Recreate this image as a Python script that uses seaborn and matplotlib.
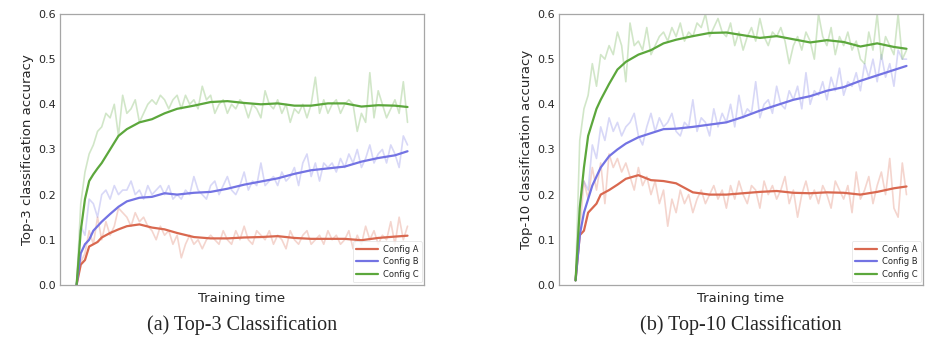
import numpy as np
import pandas as pd
import matplotlib
matplotlib.use("Agg")
import matplotlib.pyplot as plt
import seaborn as sns

sns.set_theme(style="white")
plt.rcParams["font.family"] = ["DejaVu Sans"]

CONFIGS = ["Config A", "Config B", "Config C"]
COLORS = {"Config A": "#D9684F", "Config B": "#7373E3", "Config C": "#5CA73C"}

# raw (noisy) curves, 80 evaluation steps
A3_RAW = [0.00, 0.05, 0.07, 0.12, 0.09, 0.15, 0.10, 0.14, 0.11, 0.13,
          0.17, 0.16, 0.15, 0.13, 0.16, 0.14, 0.15, 0.13, 0.12, 0.10,
          0.13, 0.11, 0.12, 0.09, 0.11, 0.06, 0.09, 0.11, 0.09, 0.10,
          0.08, 0.10, 0.11, 0.10, 0.09, 0.12, 0.10, 0.09, 0.12, 0.10,
          0.13, 0.10, 0.09, 0.12, 0.11, 0.10, 0.12, 0.09, 0.11, 0.10,
          0.08, 0.12, 0.10, 0.09, 0.11, 0.12, 0.09, 0.10, 0.11, 0.09,
          0.12, 0.10, 0.11, 0.09, 0.10, 0.12, 0.08, 0.11, 0.09, 0.13,
          0.10, 0.12, 0.09, 0.11, 0.10, 0.14, 0.09, 0.15, 0.10, 0.13]
B3_RAW = [0.00, 0.13, 0.11, 0.19, 0.18, 0.15, 0.20, 0.21, 0.19, 0.22,
          0.20, 0.21, 0.21, 0.23, 0.20, 0.21, 0.19, 0.22, 0.20, 0.21,
          0.22, 0.20, 0.22, 0.19, 0.20, 0.19, 0.21, 0.20, 0.24, 0.21,
          0.20, 0.19, 0.22, 0.23, 0.20, 0.22, 0.24, 0.21, 0.20, 0.22,
          0.25, 0.21, 0.23, 0.22, 0.27, 0.22, 0.23, 0.24, 0.22, 0.25,
          0.23, 0.24, 0.26, 0.22, 0.27, 0.29, 0.24, 0.27, 0.23, 0.27,
          0.26, 0.27, 0.25, 0.28, 0.26, 0.29, 0.27, 0.30, 0.26, 0.28,
          0.31, 0.27, 0.29, 0.30, 0.27, 0.31, 0.29, 0.26, 0.33, 0.31]
C3_RAW = [0.00, 0.18, 0.25, 0.29, 0.31, 0.34, 0.35, 0.38, 0.37, 0.40,
          0.33, 0.42, 0.38, 0.39, 0.41, 0.36, 0.38, 0.40, 0.41, 0.40,
          0.42, 0.41, 0.39, 0.41, 0.42, 0.39, 0.42, 0.40, 0.41, 0.39,
          0.44, 0.41, 0.42, 0.38, 0.40, 0.41, 0.38, 0.40, 0.39, 0.41,
          0.40, 0.37, 0.40, 0.39, 0.37, 0.43, 0.40, 0.39, 0.41, 0.38,
          0.40, 0.36, 0.39, 0.38, 0.40, 0.37, 0.40, 0.46, 0.38, 0.41,
          0.38, 0.40, 0.41, 0.38, 0.40, 0.41, 0.40, 0.34, 0.38, 0.36,
          0.47, 0.37, 0.43, 0.40, 0.37, 0.39, 0.41, 0.38, 0.45, 0.36]
A10_RAW = [0.01, 0.12, 0.23, 0.19, 0.26, 0.21, 0.27, 0.18, 0.29, 0.26,
           0.28, 0.25, 0.27, 0.24, 0.21, 0.26, 0.22, 0.24, 0.20, 0.23,
           0.18, 0.21, 0.13, 0.19, 0.16, 0.21, 0.18, 0.20, 0.16, 0.19,
           0.21, 0.18, 0.20, 0.22, 0.19, 0.21, 0.17, 0.22, 0.19, 0.23,
           0.20, 0.18, 0.22, 0.21, 0.17, 0.23, 0.20, 0.22, 0.19, 0.21,
           0.24, 0.18, 0.21, 0.15, 0.20, 0.23, 0.19, 0.21, 0.18, 0.22,
           0.20, 0.17, 0.23, 0.21, 0.19, 0.22, 0.16, 0.25, 0.19, 0.21,
           0.24, 0.18, 0.22, 0.25, 0.20, 0.28, 0.17, 0.15, 0.27, 0.20]
B10_RAW = [0.01, 0.18, 0.23, 0.21, 0.31, 0.28, 0.35, 0.32, 0.37, 0.34,
           0.36, 0.33, 0.35, 0.36, 0.38, 0.33, 0.31, 0.35, 0.38, 0.34,
           0.37, 0.35, 0.36, 0.38, 0.34, 0.33, 0.36, 0.35, 0.41, 0.34,
           0.37, 0.36, 0.33, 0.39, 0.35, 0.38, 0.36, 0.40, 0.35, 0.42,
           0.37, 0.39, 0.38, 0.45, 0.37, 0.40, 0.41, 0.38, 0.44, 0.40,
           0.39, 0.43, 0.41, 0.44, 0.39, 0.47, 0.40, 0.43, 0.42, 0.45,
           0.41, 0.46, 0.43, 0.48, 0.42, 0.45, 0.44, 0.47, 0.43, 0.49,
           0.46, 0.50, 0.45, 0.51, 0.46, 0.49, 0.44, 0.52, 0.50, 0.50]
C10_RAW = [0.01, 0.32, 0.39, 0.42, 0.49, 0.44, 0.51, 0.50, 0.53, 0.51,
           0.56, 0.53, 0.45, 0.58, 0.53, 0.54, 0.52, 0.57, 0.51, 0.53,
           0.55, 0.56, 0.54, 0.57, 0.55, 0.58, 0.54, 0.56, 0.55, 0.58,
           0.57, 0.60, 0.55, 0.57, 0.59, 0.56, 0.55, 0.58, 0.53, 0.56,
           0.52, 0.55, 0.57, 0.54, 0.59, 0.55, 0.53, 0.56, 0.55, 0.57,
           0.54, 0.49, 0.53, 0.55, 0.52, 0.56, 0.54, 0.50, 0.60, 0.55,
           0.53, 0.57, 0.51, 0.55, 0.53, 0.56, 0.52, 0.54, 0.50, 0.49,
           0.56, 0.52, 0.60, 0.50, 0.55, 0.53, 0.51, 0.60, 0.50, 0.52]

# smoothed curves, sampled at these steps
SMOOTH_STEPS = [0, 1, 2, 3, 4, 5, 6, 8, 10, 12, 15, 18, 21, 24, 28, 32, 36,
                40, 44, 48, 52, 56, 60, 64, 68, 72, 76, 79]
A3_SMOOTH = [0.00, 0.045, 0.055, 0.085, 0.09, 0.095, 0.105, 0.115, 0.123, 0.13,
             0.134, 0.127, 0.123, 0.115, 0.106, 0.103, 0.103, 0.105, 0.106,
             0.108, 0.104, 0.102, 0.102, 0.102, 0.099, 0.104, 0.107, 0.109]
B3_SMOOTH = [0.00, 0.07, 0.09, 0.10, 0.12, 0.13, 0.14, 0.157, 0.173, 0.185,
             0.193, 0.195, 0.203, 0.20, 0.204, 0.206, 0.213, 0.222, 0.229,
             0.236, 0.246, 0.254, 0.258, 0.262, 0.273, 0.281, 0.287, 0.296]
C3_SMOOTH = [0.00, 0.12, 0.19, 0.23, 0.245, 0.258, 0.27, 0.30, 0.33, 0.345,
             0.36, 0.367, 0.38, 0.39, 0.397, 0.405, 0.407, 0.403, 0.40, 0.402,
             0.397, 0.397, 0.402, 0.402, 0.395, 0.398, 0.397, 0.394]
A10_SMOOTH = [0.01, 0.11, 0.12, 0.16, 0.17, 0.18, 0.20, 0.21, 0.222, 0.235,
              0.243, 0.232, 0.23, 0.225, 0.205, 0.20, 0.20, 0.203, 0.206,
              0.208, 0.204, 0.203, 0.205, 0.204, 0.20, 0.206, 0.214, 0.218]
B10_SMOOTH = [0.01, 0.11, 0.16, 0.19, 0.22, 0.24, 0.26, 0.285, 0.30, 0.313,
              0.327, 0.336, 0.345, 0.346, 0.35, 0.355, 0.36, 0.372, 0.386,
              0.398, 0.41, 0.418, 0.43, 0.438, 0.452, 0.464, 0.476, 0.485]
C10_SMOOTH = [0.01, 0.17, 0.26, 0.33, 0.36, 0.39, 0.41, 0.445, 0.477, 0.494,
              0.51, 0.52, 0.535, 0.543, 0.551, 0.558, 0.559, 0.553, 0.547,
              0.551, 0.544, 0.537, 0.542, 0.538, 0.528, 0.535, 0.527, 0.523]


def long_df(series, steps):
    rows = []
    for name, vals in zip(CONFIGS, series):
        rows.append(pd.DataFrame({"step": steps, "acc": vals, "config": name}))
    return pd.concat(rows, ignore_index=True)


panels = [
    ("Top-3 classification accuracy", "(a) Top-3 Classification",
     [A3_RAW, B3_RAW, C3_RAW], [A3_SMOOTH, B3_SMOOTH, C3_SMOOTH]),
    ("Top-10 classification accuracy", "(b) Top-10 Classification",
     [A10_RAW, B10_RAW, C10_RAW], [A10_SMOOTH, B10_SMOOTH, C10_SMOOTH]),
]

fig = plt.figure(figsize=(9.47, 3.5), dpi=100)
lefts = [0.0634, 0.5903]
for left, (ylab, caption, raw, smooth) in zip(lefts, panels):
    ax = fig.add_axes([left, 0.186, 0.3844, 0.774])
    raw_df = long_df(raw, np.arange(len(raw[0])))
    sm_df = long_df(smooth, SMOOTH_STEPS)
    sns.lineplot(data=raw_df, x="step", y="acc", hue="config", palette=COLORS,
                 alpha=0.28, linewidth=1.2, legend=False, ax=ax)
    sns.lineplot(data=sm_df, x="step", y="acc", hue="config", palette=COLORS,
                 linewidth=1.6, ax=ax)
    ax.set_ylim(0, 0.6)
    ax.set_xticks([])
    ax.set_xlabel("Training time", fontsize=9.5, labelpad=5)
    ax.set_ylabel(ylab, fontsize=9.5, labelpad=3)
    ax.tick_params(axis="y", length=0, pad=3, labelsize=8)
    for s in ax.spines.values():
        s.set_color("#a6a6a6")
        s.set_linewidth(0.9)
    leg = ax.legend(loc="lower right", fontsize=6, handlelength=2.6,
                    frameon=True, borderpad=0.4, labelspacing=0.45,
                    handletextpad=0.6, borderaxespad=0.3)
    leg.get_frame().set_edgecolor("#e0e0e0")
    leg.get_frame().set_linewidth(0.6)
    cx = left + 0.3844 / 2
    fig.text(cx, 0.07, caption, ha="center", va="center", fontsize=14.5,
             family=["Liberation Serif", "DejaVu Serif"])

fig.savefig("out.png", dpi=100)
